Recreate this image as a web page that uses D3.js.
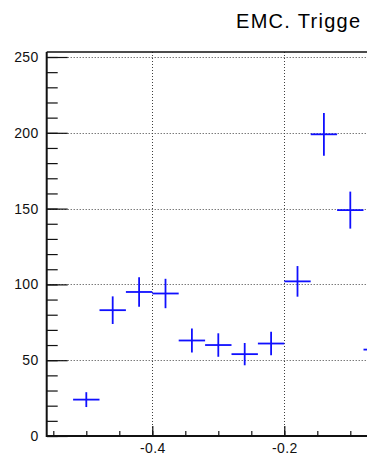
<!DOCTYPE html>
<html>
<head>
<meta charset="utf-8">
<script src="https://cdn.jsdelivr.net/npm/d3@7"></script>
<style>
  html, body { margin: 0; padding: 0; background: #fff; overflow: hidden; }
  svg { display: block; font-family: "Liberation Sans", Arial, Helvetica, sans-serif; }
</style>
</head>
<body>
<script>
// Histogram contents: bin centres (bin width 0.04) and entries per bin
const binCenters = [-0.50, -0.46, -0.42, -0.38, -0.34, -0.30, -0.26, -0.22, -0.18, -0.14, -0.10, -0.06];
const binCounts  = [24, 83, 95, 94, 63, 60, 54, 61, 102, 199, 149, 57];
const binHalfWidth = 0.02;

// Axis ticks and labels
const xMajorTicks = [-0.4, -0.2];
const xMinorTicks = d3.range(-11, 12).map(i => i * 0.05);
const yMajorTicks = [0, 50, 100, 150, 200, 250];
const yMinorTicks = d3.range(0, 26).map(i => i * 10);
const title = "EMC. Trigge";

const width = 367, height = 463;
const frame = { left: 46.7, top: 52, bottom: 436 };

const x = d3.scaleLinear().domain([-0.56, 0.56]).range([frame.left, frame.left + 660 * 1.12]);
const y = d3.scaleLinear().domain([0, 253.3]).range([frame.bottom, frame.top]);
const frameRight = x.range()[1];

const svg = d3.select("body").append("svg")
  .attr("width", width).attr("height", height);

// Title
svg.append("text")
  .attr("x", 236).attr("y", 27.7)
  .attr("font-size", 20).attr("letter-spacing", 1.3).attr("fill", "#000")
  .text(title);

// Dotted grid at the major ticks
const grid = svg.append("g")
  .attr("stroke", "#000").attr("stroke-width", 1)
  .attr("stroke-dasharray", "1,2").attr("opacity", 0.75);
grid.selectAll("line.h").data(yMajorTicks).join("line")
  .attr("class", "h")
  .attr("x1", frame.left).attr("x2", frameRight)
  .attr("y1", d => Math.round(y(d)) + 0.5).attr("y2", d => Math.round(y(d)) + 0.5);
grid.selectAll("line.v").data(xMajorTicks).join("line")
  .attr("class", "v")
  .attr("x1", d => Math.round(x(d)) + 0.5).attr("x2", d => Math.round(x(d)) + 0.5)
  .attr("y1", frame.top).attr("y2", frame.bottom);

// Axes: ticks point into the frame
const axisStyle = g => {
  g.select(".domain").remove();
  g.selectAll(".tick line").attr("stroke", "#111").attr("stroke-width", 1.2);
  g.selectAll(".tick text").attr("fill", "#111").attr("font-size", 14).attr("letter-spacing", 0.4)
    .attr("font-family", "'Liberation Sans', Arial, sans-serif");
};

svg.append("g").attr("transform", `translate(${frame.left},0)`)
  .call(d3.axisLeft(y).tickValues(yMinorTicks).tickSize(-11).tickFormat(""))
  .call(axisStyle);
svg.append("g").attr("transform", `translate(${frame.left},0)`)
  .call(d3.axisLeft(y).tickValues(yMajorTicks).tickSize(-21).tickPadding(8).tickFormat(d3.format("d")))
  .call(axisStyle);

svg.append("g").attr("transform", `translate(0,${frame.bottom})`)
  .call(d3.axisBottom(x).tickValues(xMinorTicks).tickSize(-5).tickFormat(""))
  .call(axisStyle);
svg.append("g").attr("transform", `translate(0,${frame.bottom})`)
  .call(d3.axisBottom(x).tickValues(xMajorTicks).tickSize(-10).tickPadding(7)
    .tickFormat(d => d.toFixed(1)))
  .call(axisStyle);

// Frame
svg.append("line").attr("x1", frame.left).attr("x2", frame.left)
  .attr("y1", frame.top).attr("y2", frame.bottom + 1)
  .attr("stroke", "#111").attr("stroke-width", 2);
svg.append("line").attr("x1", frame.left).attr("x2", frameRight)
  .attr("y1", frame.bottom).attr("y2", frame.bottom)
  .attr("stroke", "#111").attr("stroke-width", 2);
svg.append("line").attr("x1", frame.left).attr("x2", frameRight)
  .attr("y1", frame.top).attr("y2", frame.top)
  .attr("stroke", "#111").attr("stroke-width", 1.5);

// Histogram drawn as error crosses: bin width horizontally, sqrt(N) vertically
const bins = binCenters.map((c, i) => ({ c, n: binCounts[i], e: Math.sqrt(binCounts[i]) }));
const marks = svg.append("g").attr("stroke", "#1010ff").attr("stroke-width", 1.8);
marks.selectAll("line.h").data(bins).join("line")
  .attr("class", "h")
  .attr("x1", d => x(d.c - binHalfWidth)).attr("x2", d => x(d.c + binHalfWidth))
  .attr("y1", d => y(d.n)).attr("y2", d => y(d.n));
marks.selectAll("line.v").data(bins).join("line")
  .attr("class", "v")
  .attr("x1", d => x(d.c)).attr("x2", d => x(d.c))
  .attr("y1", d => y(d.n - d.e)).attr("y2", d => y(d.n + d.e));
</script>
</body>
</html>
